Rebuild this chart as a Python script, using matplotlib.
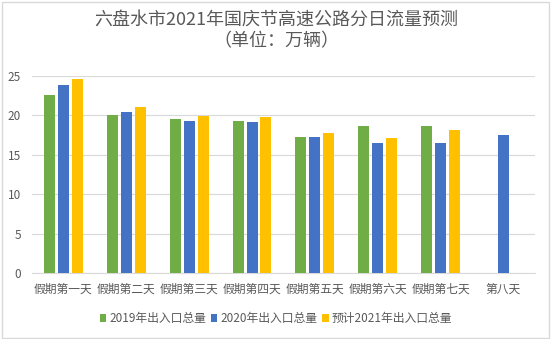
import numpy as np
import matplotlib
matplotlib.use('Agg')
import matplotlib.pyplot as plt
from matplotlib.patches import Rectangle

plt.rcParams['font.family'] = ['Noto Sans CJK SC', 'DejaVu Sans']

days = ['假期第一天', '假期第二天', '假期第三天', '假期第四天',
        '假期第五天', '假期第六天', '假期第七天', '第八天']
flow_2019 = [22.5, 20.0, 19.5, 19.3, 17.2, 18.6, 18.6, np.nan]
flow_2020 = [23.8, 20.4, 19.3, 19.1, 17.2, 16.5, 16.5, 17.5]
flow_2021 = [24.6, 21.0, 19.9, 19.8, 17.7, 17.1, 18.1, np.nan]
series_names = ['2019年出入口总量', '2020年出入口总量', '预计2021年出入口总量']
colors = ['#70ad47', '#4472c4', '#ffc000']

fig = plt.figure(figsize=(5.52, 3.39), dpi=100)
ax = fig.add_axes([0.058, 0.194, 0.911, 0.583])

x = np.arange(len(days))
width = 0.175
step = 0.222
for i, (vals, name, c) in enumerate(zip([flow_2019, flow_2020, flow_2021], series_names, colors)):
    ax.bar(x + (i - 1) * step, vals, width=width, color=c, label=name, zorder=3)

ax.set_xlim(-0.5, len(days) - 0.5)
ax.set_ylim(0, 25)
ax.set_yticks([0, 5, 10, 15, 20, 25])
ax.set_xticks(x)
ax.set_xticklabels(days)
ax.tick_params(axis='both', length=0, labelsize=8.5, colors='#595959')
ax.tick_params(axis='x', pad=7)
ax.tick_params(axis='y', pad=8)
ax.grid(axis='y', color='#d9d9d9', lw=0.8, zorder=0)
for s in ['top', 'left', 'right']:
    ax.spines[s].set_visible(False)
ax.spines['bottom'].set_color('#d9d9d9')

fig.text(0.5, 0.91, '六盘水市2021年国庆节高速公路分日流量预测\n（单位：万辆）',
         ha='center', va='center', fontsize=13, color='#595959', linespacing=1.3)

fig.legend(loc='center', bbox_to_anchor=(0.5, 0.06), ncol=3, frameon=False,
           fontsize=8.5, handlelength=0.55, handleheight=0.55, handletextpad=0.25,
           columnspacing=0.4, labelcolor='#595959')

fig.patches.append(Rectangle((0.003, 0.004), 0.992, 0.99, transform=fig.transFigure,
                             fill=False, edgecolor='#d9d9d9', lw=1))

fig.savefig('out.png', dpi=100)
